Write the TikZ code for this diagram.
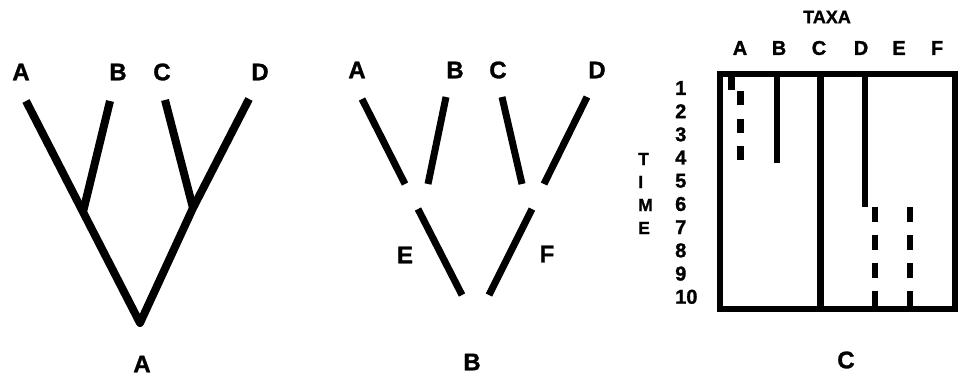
\documentclass[tikz,border=0pt]{standalone}
\usepackage{fontspec}
\setmainfont{Liberation Sans}[BoldFeatures={FakeBold=1.3}]
\begin{document}
\begin{tikzpicture}[x=1pt,y=-1pt,
  lbl/.style={font=\fontsize{24}{24}\selectfont\bfseries, inner sep=0pt},
  numlbl/.style={font=\fontsize{20}{20}\selectfont\bfseries, inner sep=0pt, anchor=west},
  timelbl/.style={font=\fontsize{17.5}{17.5}\selectfont\bfseries, inner sep=0pt, anchor=west},
  collbl/.style={font=\fontsize{20}{20}\selectfont\bfseries, inner sep=0pt},
  brA/.style={line width=8pt, line cap=butt, line join=round},
  brB/.style={line width=7pt, line cap=butt},
  bar/.style={line width=#1, line cap=butt}]
\useasboundingbox (0,0) rectangle (960,376);

% ---------- Panel A ----------
\node[lbl] (aA) at (21,72) {A};
\node[lbl] (aB) at (118,72) {B};
\node[lbl] (aC) at (162,72) {C};
\node[lbl] (aD) at (260,72) {D};
\coordinate (aa) at (26,101);
\coordinate (ab) at (110,101);
\coordinate (ac) at (165,100);
\coordinate (ad) at (249,99);
\coordinate (aL) at (83,212);
\coordinate (aR) at (193,208);
\coordinate (aRoot) at (140,323);
\draw[brA] (aa) -- (aL) -- (aRoot) -- (aR) -- (ad);
\draw[brA] (ab) -- (aL);
\draw[brA] (ac) -- (aR);
\node[lbl] (capA) at (142,364) {A};

% ---------- Panel B ----------
\node[lbl] (bA) at (357,70) {A};
\node[lbl] (bB) at (455,70) {B};
\node[lbl] (bC) at (498,70) {C};
\node[lbl] (bD) at (597,70) {D};
\coordinate (ba1) at (362,99);  \coordinate (ba2) at (405,184);
\coordinate (bb1) at (446,97);  \coordinate (bb2) at (428,184);
\coordinate (bc1) at (502,97);  \coordinate (bc2) at (522,184);
\coordinate (bd1) at (587,97);  \coordinate (bd2) at (544,184);
\coordinate (be1) at (418,209); \coordinate (be2) at (462,295);
\coordinate (bf1) at (532,209); \coordinate (bf2) at (489,295);
\draw[brB] (ba1) -- (ba2);
\draw[brB] (bb1) -- (bb2);
\draw[brB] (bc1) -- (bc2);
\draw[brB] (bd1) -- (bd2);
\draw[brB] (be1) -- (be2);
\draw[brB] (bf1) -- (bf2);
\node[lbl] (bE) at (405,255) {E};
\node[lbl] (bF) at (547,254) {F};
\node[lbl] (capB) at (472,362) {B};

% ---------- Panel C ----------
\node[font=\fontsize{18}{18}\selectfont\bfseries, inner sep=0pt] (taxa) at (827,17) {TAXA};
\foreach \l/\x in {A/740,B/779,C/819,D/861,E/899,F/937}
  \node[collbl] (col\l) at (\x,48) {\l};
\foreach \n [count=\i] in {1,...,10}
  \node[numlbl] (t\n) at (675,{88+23.2*(\i-1)}) {\n};
\foreach \l/\y in {T/159,I/182,M/205,E/228}
  \node[timelbl] (time\l) at (638,\y) {\l};
\draw[line width=6pt] (720,74) rectangle (955,309);
% column A
\draw[bar=7pt] (731.5,71) -- (731.5,90);
\draw[bar=7pt, dash pattern=on 14pt off 13.5pt] (740,91) -- (740,160);
% column B
\draw[bar=6pt] (776.5,74) -- (776.5,163);
% column C
\draw[bar=7pt] (820.5,71) -- (820.5,312);
% column D
\draw[bar=6pt] (865,74) -- (865,207);
\draw[bar=6.5pt, dash pattern=on 15pt off 13pt] (875,207) -- (875,308);
% column E
\draw[bar=6.5pt, dash pattern=on 15pt off 13pt] (910,207) -- (910,308);
\node[lbl] (capC) at (846,360) {C};
\end{tikzpicture}
\end{document}
